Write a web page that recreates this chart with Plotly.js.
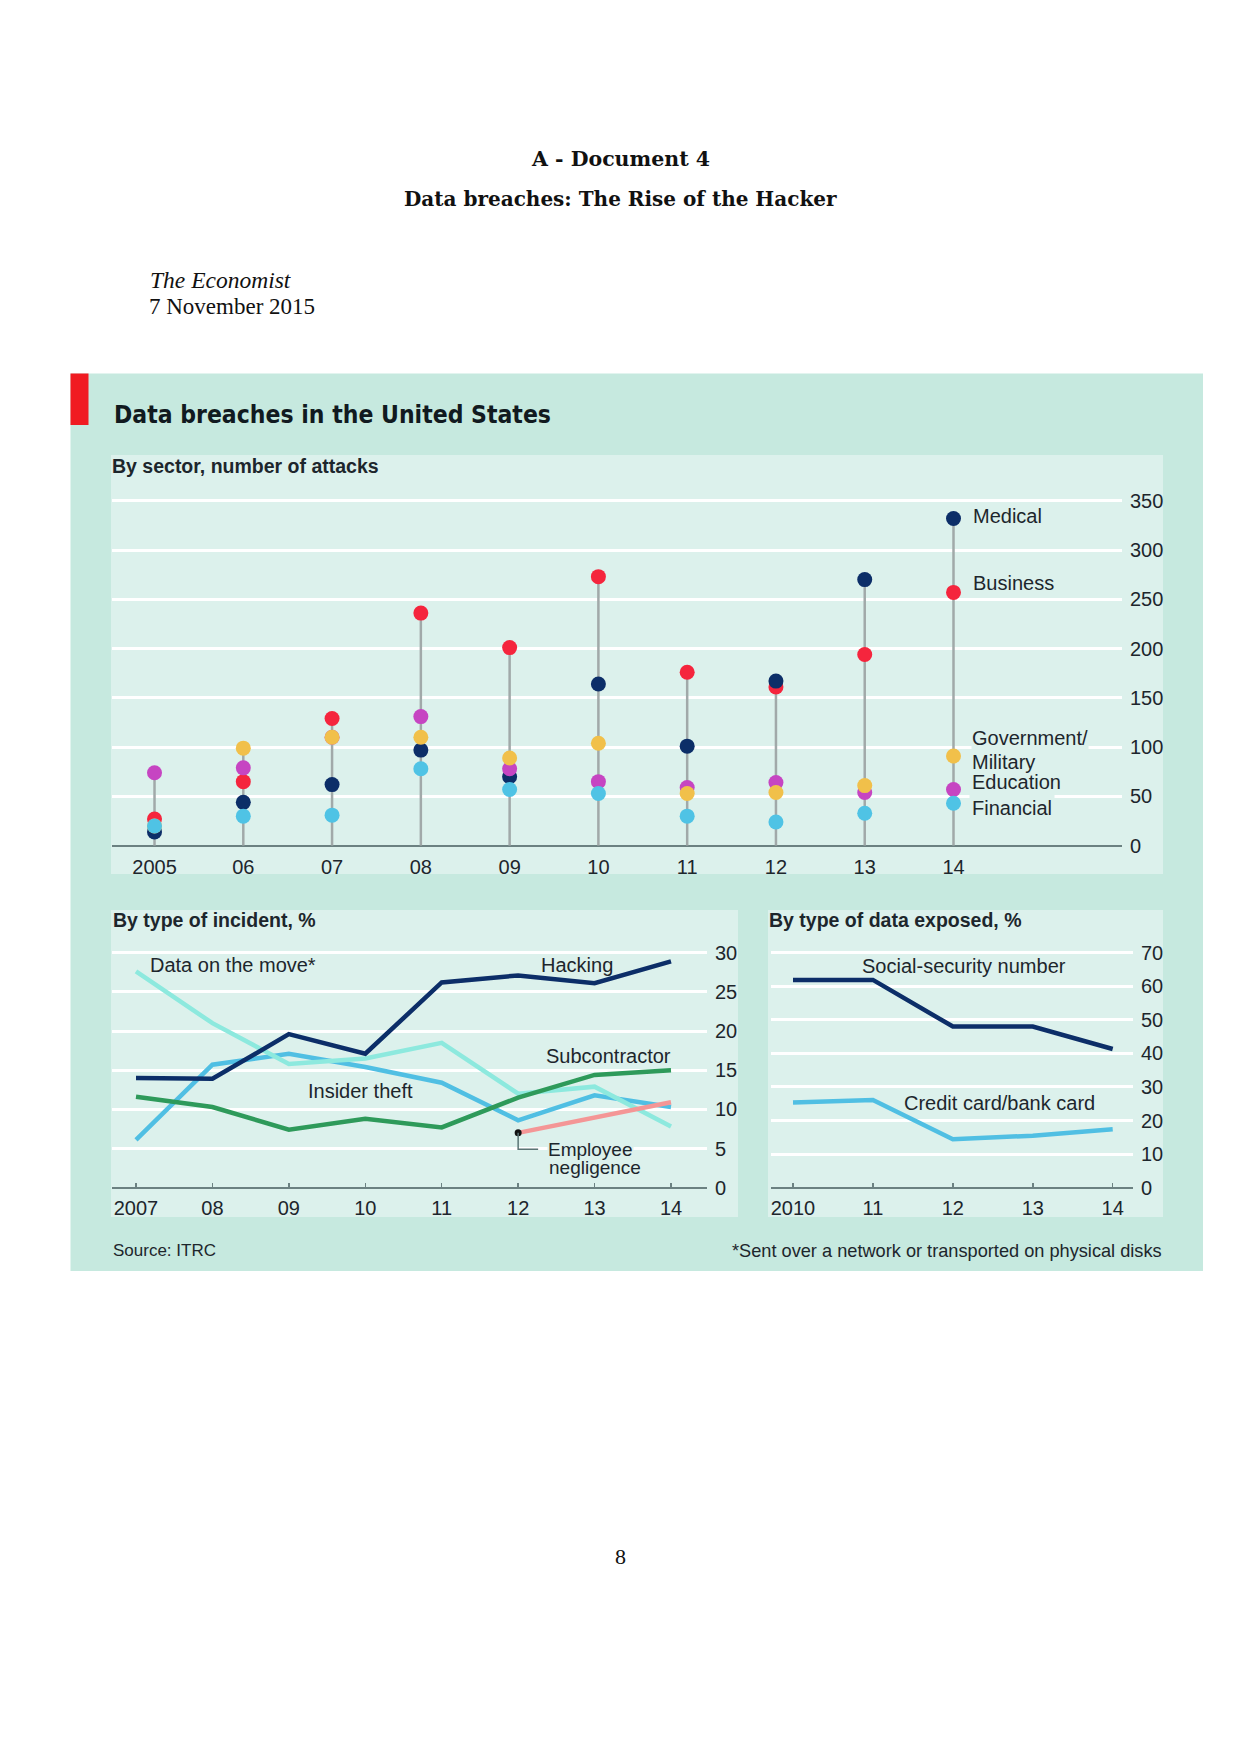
<!DOCTYPE html>
<html>
<head>
<meta charset="utf-8">
<script src="https://cdn.plot.ly/plotly-3.0.1.min.js"></script>
<style>
html,body{margin:0;padding:0;background:#ffffff;}
#chart{width:1240px;height:1754px;}
</style>
</head>
<body>
<div id="chart"></div>
<script>
// ---------- DATA ----------
// Top: by sector, number of attacks
const sectorYears = [2005, 2006, 2007, 2008, 2009, 2010, 2011, 2012, 2013, 2014];
const sectorTicks = ['2005', '06', '07', '08', '09', '10', '11', '12', '13', '14'];
const business   = [27, 65, 129, 236, 201, 273, 176, 161, 194, 257];
const medical    = [14, 44, 62, 97, 70, 164, 101, 167, 270, 332];
const education  = [74, 79, 110, 131, 78, 65, 59, 64, 54, 57];
const government = [20, 99, 110, 110, 89, 104, 53, 54, 61, 91];
const financial  = [20, 30, 31, 78, 57, 53, 30, 24, 33, 43];
const sectorGrid = [0, 50, 100, 150, 200, 250, 300, 350];

// Bottom left: by type of incident, %
const incidentYears = [2007, 2008, 2009, 2010, 2011, 2012, 2013, 2014];
const incidentTicks = ['2007', '08', '09', '10', '11', '12', '13', '14'];
const hacking            = [14.0, 13.9, 19.6, 17.1, 26.2, 27.1, 26.1, 28.9];
const dataOnTheMove      = [27.6, 21.0, 15.8, 16.5, 18.5, 12.0, 12.9, 7.8];
const insiderTheft       = [6.1, 15.7, 17.1, 15.4, 13.4, 8.6, 11.8, 10.3];
const subcontractor      = [11.6, 10.3, 7.4, 8.8, 7.7, 11.5, 14.4, 15.0];
const employeeNegligence = [null, null, null, null, null, 7.0, 9.0, 10.9];
const incidentGrid = [0, 5, 10, 15, 20, 25, 30];

// Bottom right: by type of data exposed, %
const exposedYears = [2010, 2011, 2012, 2013, 2014];
const exposedTicks = ['2010', '11', '12', '13', '14'];
const socialSecurity = [61.9, 61.9, 48.0, 48.0, 41.3];
const creditCard     = [25.4, 26.1, 14.4, 15.5, 17.4];
const exposedGrid = [0, 10, 20, 30, 40, 50, 60, 70];

// ---------- STYLE ----------
const W = 1240, H = 1754;
const px = x => x / W;
const py = y => 1 - y / H;
const SANS = 'Liberation Sans, Arial, sans-serif';
const NARROW = 'Liberation Sans Narrow, Arial Narrow, DejaVu Sans Condensed, Liberation Sans, sans-serif';
const TXT = '#1d262c';
const OUTER = '#c6e9df';
const INNER = '#dcf1ec';
const AXIS = '#6b8181';

const C = {
  navy: '#0c2e68', red: '#f5253d', magenta: '#c645c2', yellow: '#f1c04a', cyan: '#4fc3e5',
  aqua: '#8de9de', green: '#2e9a5a', pink: '#f49696', insider: '#50bfe3', stem: '#a1a9a9'
};

// stems: from 0 to the highest value of the year
const stemX = [], stemY = [];
sectorYears.forEach((yr, i) => {
  const top = Math.max(business[i], medical[i], education[i], government[i], financial[i]);
  stemX.push(yr, yr, null);
  stemY.push(0, top, null);
});

function dots(y, color) {
  return { type: 'scatter', mode: 'markers', x: sectorYears, y: y, xaxis: 'x', yaxis: 'y',
    marker: { color: color, size: 15, line: { width: 0 } }, cliponaxis: false, hoverinfo: 'skip' };
}
function line(xs, ys, color, xa, ya) {
  return { type: 'scatter', mode: 'lines', x: xs, y: ys, xaxis: xa, yaxis: ya,
    line: { color: color, width: 4.5 }, cliponaxis: false, hoverinfo: 'skip', connectgaps: false };
}

const negStart = employeeNegligence.findIndex(v => v !== null);

const traces = [
  { type: 'scatter', mode: 'lines', x: stemX, y: stemY, xaxis: 'x', yaxis: 'y',
    line: { color: C.stem, width: 2.5 }, hoverinfo: 'skip' },
  dots(business, C.red),
  dots(medical, C.navy),
  dots(education, C.magenta),
  dots(government, C.yellow),
  dots(financial, C.cyan),

  line(incidentYears, insiderTheft, C.insider, 'x2', 'y2'),
  line(incidentYears, dataOnTheMove, C.aqua, 'x2', 'y2'),
  line(incidentYears, subcontractor, C.green, 'x2', 'y2'),
  line(incidentYears, hacking, C.navy, 'x2', 'y2'),
  line(incidentYears, employeeNegligence, C.pink, 'x2', 'y2'),
  { type: 'scatter', mode: 'markers', x: [incidentYears[negStart]], y: [employeeNegligence[negStart]],
    xaxis: 'x2', yaxis: 'y2', marker: { color: '#111111', size: 7 }, cliponaxis: false, hoverinfo: 'skip' },

  line(exposedYears, creditCard, C.insider, 'x3', 'y3'),
  line(exposedYears, socialSecurity, C.navy, 'x3', 'y3')
];

function xAxis(l, r, range, vals, text, ticks, anchor, standoff) {
  return { domain: [px(l), px(r)], range: range, tickmode: 'array', tickvals: vals, ticktext: text,
    showgrid: false, zeroline: false, showline: false, ticks: ticks, ticklen: 5, tickwidth: 1.5,
    tickcolor: AXIS, tickfont: { family: SANS, size: 20, color: TXT }, anchor: anchor, fixedrange: true,
    ticklabelstandoff: standoff };
}
function yAxis(t, b, range, vals, anchor, standoff) {
  return { domain: [py(b), py(t)], range: range, side: 'right', tickmode: 'array', tickvals: vals,
    showgrid: true, gridcolor: '#ffffff', gridwidth: 3, zeroline: true, zerolinecolor: AXIS,
    zerolinewidth: 2, showline: false, ticks: '', tickfont: { family: SANS, size: 20, color: TXT },
    anchor: anchor, fixedrange: true, ticklabelstandoff: standoff };
}

function rect(x0, y0, x1, y1, color) {
  return { type: 'rect', xref: 'paper', yref: 'paper', x0: px(x0), x1: px(x1), y0: py(y1), y1: py(y0),
    fillcolor: color, line: { width: 0 }, layer: 'below' };
}

function ann(text, x, y, o) {
  o = o || {};
  const a = { text: text, xref: 'paper', yref: 'paper', x: px(x), y: py(y),
    xanchor: o.xanchor || 'left', yanchor: 'middle', showarrow: false,
    font: { family: o.family || SANS, size: o.size || 20, color: o.color || TXT,
            weight: o.weight || 'normal', style: o.style || 'normal' } };
  if (o.bg) { a.bgcolor = o.bg; a.borderpad = (o.pad !== undefined) ? o.pad : 0; }
  return a;
}

const annotations = [
  // page
  ann('A - Document 4', 620, 159, { xanchor: 'center', family: 'DejaVu Serif, serif', size: 20.5, weight: 'bold', color: '#111' }),
  ann('Data breaches: The Rise of the Hacker', 620, 199, { xanchor: 'center', family: 'DejaVu Serif, serif', size: 20, weight: 'bold', color: '#111' }),
  ann('The Economist', 148, 280, { family: 'Liberation Serif, serif', size: 23.5, style: 'italic', color: '#111' }),
  ann('7 November 2015', 147, 307, { family: 'Liberation Serif, serif', size: 23, color: '#111' }),
  ann('8', 620, 1556, { xanchor: 'center', family: 'Liberation Serif, serif', size: 22, color: '#111' }),

  // chart titles
  ann('Data breaches in the United States', 112, 414, { family: NARROW, size: 24.5, weight: 'bold', color: '#111a20' }),
  ann('By sector, number of attacks', 110, 466, { size: 19.5, weight: 'bold' }),
  ann('By type of incident, %', 111, 920, { size: 19.5, weight: 'bold' }),
  ann('By type of data exposed, %', 767, 920, { size: 19.5, weight: 'bold' }),
  ann('Source: ITRC', 111, 1250, { size: 17 }),
  ann('*Sent over a network or transported on physical disks', 1164, 1251, { xanchor: 'right', size: 18.2 }),

  // top labels
  ann('Medical', 971, 516, {}),
  ann('Business', 971, 583, {}),
  ann('Financial', 969, 808, { bg: INNER, pad: 2 }),
  ann('Education', 971, 782, { bg: INNER }),
  ann('Military', 971, 762, { bg: INNER }),
  ann('Government/', 971, 738, { bg: INNER }),

  // bottom-left labels
  ann('Data on the move*', 148, 965, {}),
  ann('Hacking', 577, 965, { xanchor: 'center' }),
  ann('Subcontractor', 608, 1056, { xanchor: 'center' }),
  ann('Insider theft', 360, 1091, { xanchor: 'center' }),
  ann('Employee', 547, 1149, { bg: INNER, size: 19 }),
  ann('negligence', 547, 1167, { size: 19 }),

  // bottom-right labels
  ann('Social-security number', 964, 966, { xanchor: 'center' }),
  ann('Credit card/bank card', 1000, 1103, { xanchor: 'center' })
];

const shapes = [
  rect(70.5, 373.5, 1203, 1271, OUTER),
  rect(70.5, 373.5, 88.5, 425, '#f01b22'),
  rect(111, 455, 1163, 874, INNER),
  rect(111, 910, 738, 1217, INNER),
  rect(768, 910, 1163, 1217, INNER),
  // leader for "Employee negligence"
  { type: 'path', xref: 'x2', yref: 'y2', xsizemode: 'pixel', ysizemode: 'pixel',
    xanchor: incidentYears[negStart], yanchor: employeeNegligence[negStart],
    path: 'M0,0 L0,-16.5 L20,-16.5', line: { color: '#5b7474', width: 1.5 }, layer: 'above' }
];

const layout = {
  width: W, height: H, autosize: false,
  margin: { l: 0, r: 0, t: 0, b: 0, pad: 0 },
  paper_bgcolor: '#ffffff', plot_bgcolor: 'rgba(0,0,0,0)',
  showlegend: false, font: { family: SANS, color: TXT },
  xaxis:  xAxis(112, 1122, [2004.521, 2015.898], sectorYears, sectorTicks, '', 'y', 7),
  yaxis:  yAxis(490, 845.7, [0, 360.9], sectorGrid, 'x', 7),
  xaxis2: xAxis(112, 707, [2006.686, 2014.471], incidentYears, incidentTicks, 'inside', 'y2', 6),
  yaxis2: yAxis(945, 1187.7, [0, 30.98], incidentGrid, 'x2', 7),
  xaxis3: xAxis(770.7, 1133, [2009.721, 2014.254], exposedYears, exposedTicks, 'inside', 'y3', 6),
  yaxis3: yAxis(945, 1187.7, [0, 72.29], exposedGrid, 'x3', 7),
  shapes: shapes,
  annotations: annotations
};

Plotly.newPlot('chart', traces, layout, { staticPlot: true, displayModeBar: false });
</script>
</body>
</html>
